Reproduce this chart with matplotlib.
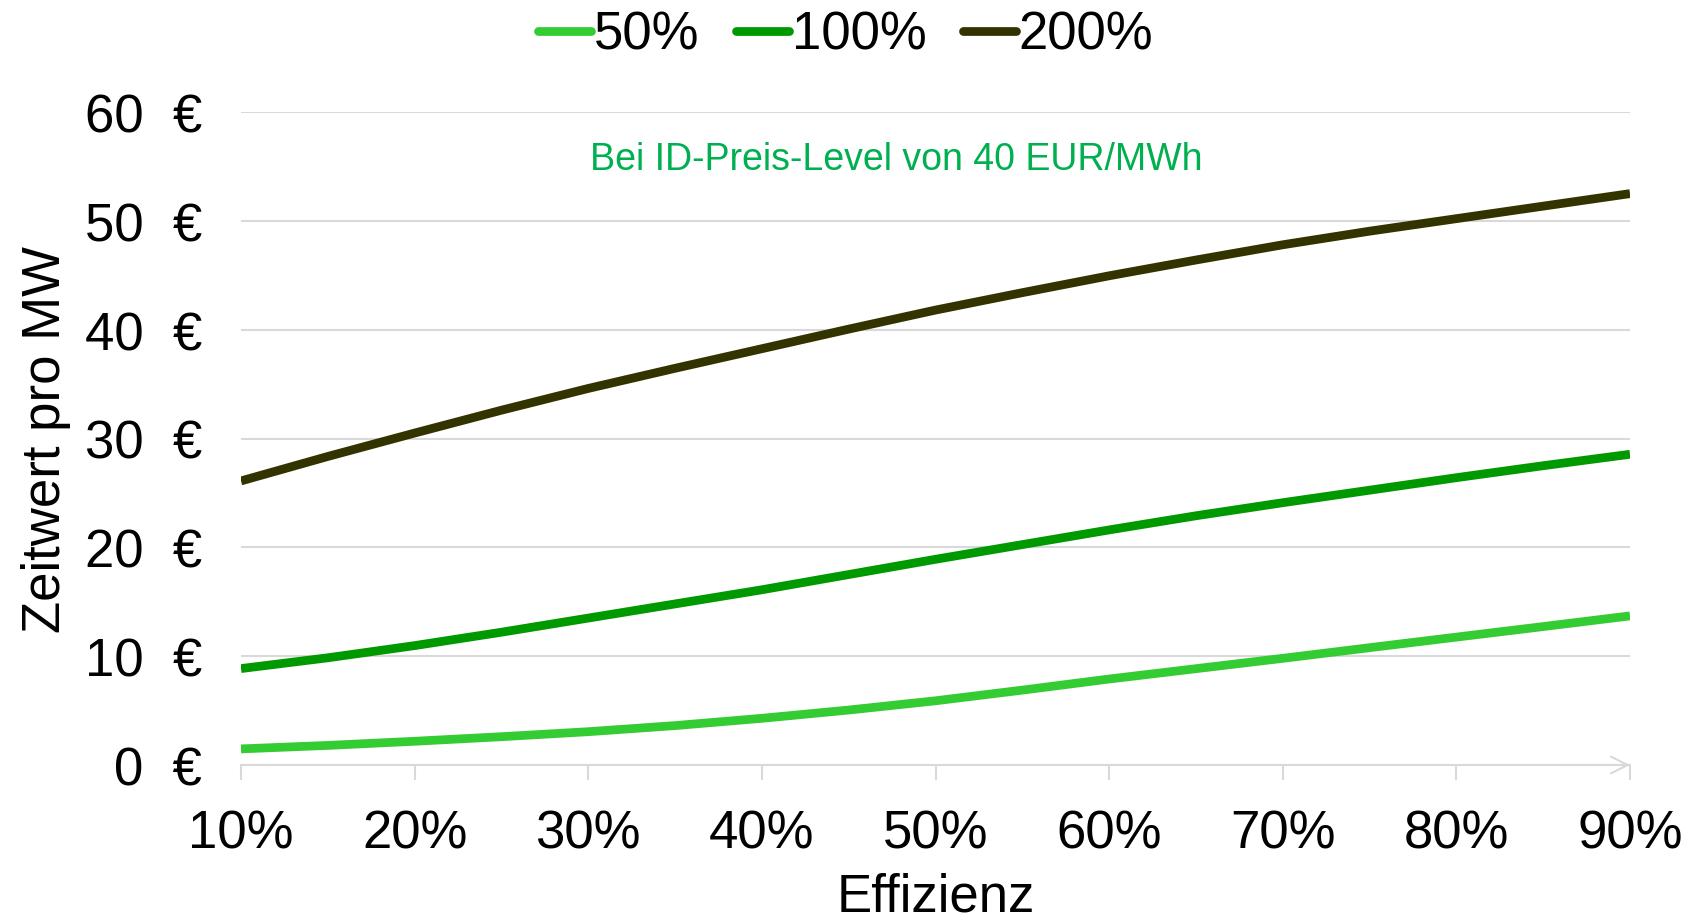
import matplotlib
matplotlib.use("Agg")
import matplotlib.pyplot as plt

plt.rcParams['font.family'] = ['Liberation Sans', 'DejaVu Sans']

efficiency = [10, 15, 20, 25, 30, 35, 40, 45, 50, 55, 60, 65, 70, 75, 80, 85, 90]
series_50 = [1.48, 1.8, 2.18, 2.6, 3.06, 3.62, 4.29, 5.05, 5.9, 6.88, 7.9, 8.85, 9.8, 10.78, 11.75, 12.72, 13.7]
series_100 = [8.86, 9.85, 10.97, 12.2, 13.5, 14.8, 16.1, 17.5, 18.9, 20.25, 21.6, 22.9, 24.1, 25.25, 26.4, 27.5, 28.55]
series_200 = [26.1, 28.35, 30.5, 32.6, 34.6, 36.45, 38.25, 40.05, 41.8, 43.4, 44.95, 46.4, 47.8, 49.05, 50.2, 51.35, 52.5]
series_names = ["50%", "100%", "200%"]
x_ticks = [10, 20, 30, 40, 50, 60, 70, 80, 90]
x_labels = ["10%", "20%", "30%", "40%", "50%", "60%", "70%", "80%", "90%"]
y_ticks = [0, 10, 20, 30, 40, 50, 60]
y_labels = ["0  €", "10  €", "20  €", "30  €", "40  €", "50  €", "60  €"]

colors = ["#33CC33", "#009900", "#333300"]

fig = plt.figure(figsize=(17.02, 9.2), dpi=100)
ax = fig.add_axes([241/1702, 1-766/920, (1630-241)/1702, (766-113)/920])

handles = []
for vals, c, name in zip([series_50, series_100, series_200], colors, series_names):
    h, = ax.plot(efficiency, vals, color=c, lw=6.3, solid_capstyle='butt',
                 solid_joinstyle='round', label=name, zorder=3)
    handles.append(h)

ax.set_xlim(10, 90)
ax.set_ylim(0, 60)
ax.set_yticks(y_ticks)
ax.set_yticklabels(y_labels)
ax.set_xticks(x_ticks)
ax.set_xticklabels(x_labels)

for s in ['top', 'right', 'left']:
    ax.spines[s].set_visible(False)
ax.spines['bottom'].set_color('#D9D9D9')
ax.spines['bottom'].set_linewidth(1.5)

ax.grid(axis='y', color='#D9D9D9', lw=1.5)
ax.set_axisbelow(True)
ax.tick_params(axis='y', length=0, labelsize=38, pad=28)
ax.tick_params(axis='x', length=11, width=1.5, color='#D9D9D9', labelsize=38, pad=20)

ax.annotate('', xy=(1.0, 0), xytext=(0.95, 0), xycoords='axes fraction',
            arrowprops=dict(arrowstyle='->', color='#D9D9D9', lw=1.5, mutation_scale=30,
                            shrinkA=0, shrinkB=0), annotation_clip=False)

ax.set_ylabel("Zeitwert pro MW", fontsize=38, labelpad=10)
ax.set_xlabel("Effizienz", fontsize=38, labelpad=10)

ax.text(0.4716, 0.928, "Bei ID-Preis-Level von 40 EUR/MWh", transform=ax.transAxes,
        ha='center', va='center', fontsize=27, color='#00B050')

leg = fig.legend(handles=handles, labels=series_names, loc='center', bbox_to_anchor=(0.497, 1-36/920),
                 ncol=3, frameon=False, fontsize=38, handlelength=1.0, handletextpad=0.05,
                 columnspacing=0.7)
for lh in leg.get_lines():
    lh.set_solid_capstyle('round')

fig.savefig("out.png", dpi=100)
